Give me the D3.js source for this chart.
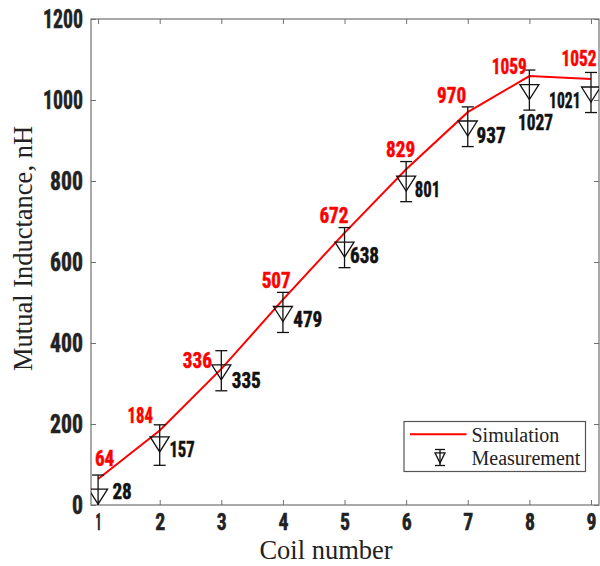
<!DOCTYPE html>
<html>
<head>
<meta charset="utf-8">
<script src="https://cdn.jsdelivr.net/npm/d3@7"></script>
<style>
  html, body { margin: 0; padding: 0; background: #fff; }
  svg { display: block; }
</style>
</head>
<body>
<svg id="chart" width="600" height="566"></svg>
<script>
// Mutual inductance per coil: simulated vs measured (nH)
const coils = [1, 2, 3, 4, 5, 6, 7, 8, 9];
const simulation = [64, 184, 336, 507, 672, 829, 970, 1059, 1052];
const measurement = [28, 157, 335, 479, 638, 801, 937, 1027, 1021];
const measLow = [-20, 98, 282, 426, 586, 749, 885, 975, 969];
const measHigh = [74, 198, 381, 525, 685, 848, 983, 1074, 1068];
const yTicks = [0, 200, 400, 600, 800, 1000, 1200];
const xTicks = [1, 2, 3, 4, 5, 6, 7, 8, 9];

// hand-placed value label offsets (px) relative to each point
const simLabelOffset = [[6.5, -13.4], [-19.5, -7.5], [-24, -1.2], [-6.7, -12], [-10.6, -10.1],
  [-5.5, -12], [-16.2, -9.5], [-20.1, -2.1], [-12, -13.3]];
const measLabelOffset = [[14.3, 5.3, "start"], [9.7, 15.9, "start"], [10.4, 19, "start"],
  [10.3, 16.3, "start"], [5.4, 16.7, "start"], [8.7, 16.1, "start"], [8.8, 17.8, "start"],
  [6.2, 40.9, "middle"], [-10.5, 16.8, "end"]];

const svg = d3.select("#chart");
const box = { left: 91, right: 599, top: 19, bottom: 505 };

const x = d3.scaleLinear().domain([0.885, 9.13]).range([box.left, box.right]);
const y = d3.scaleLinear().domain([0, 1200]).range([box.bottom, box.top]);

const axisColor = "#707070";
const numFont = "'Liberation Sans Narrow', 'Roboto Condensed', 'DejaVu Sans Condensed', sans-serif";
const serif = "'Liberation Serif', 'Times New Roman', serif";

// condensed numerals: squeeze each number to a narrow width ("1" is thinner)
function numWidth(str, w, w1) {
  return String(str).split("").reduce((s, ch) => s + (ch === "1" ? w1 : w), 0);
}
function condense(sel, w, w1) {
  sel.attr("lengthAdjust", "spacingAndGlyphs")
    .attr("textLength", function () { return numWidth(this.textContent, w, w1); })
    .attr("stroke", function () { return d3.select(this).attr("fill"); })
    .attr("stroke-width", 0.5);
}
// value label squeezed horizontally with a transform about its anchor
function valueLabel(px, py, anchor, color, value) {
  const t = svg.append("text")
    .attr("text-anchor", anchor).attr("font-family", numFont).attr("font-weight", "bold")
    .attr("font-size", 22).attr("fill", color).attr("stroke", color).attr("stroke-width", 0.5)
    .text(value);
  const natural = t.node().getComputedTextLength() || 1;
  const k = numWidth(value, 9.7, 6) / natural;
  t.attr("transform", `translate(${px},${py}) scale(${k},1)`);
}

// clip for marks
svg.append("defs").append("clipPath").attr("id", "plotClip")
  .append("rect").attr("x", box.left).attr("y", box.top)
  .attr("width", box.right - box.left).attr("height", box.bottom - box.top);

// axes (ticks point inward)
const tick = 5;
function styleAxis(g) {
  g.select(".domain").remove();
  g.selectAll(".tick line").attr("stroke", axisColor).attr("stroke-width", 1);
}
const gBottom = svg.append("g").attr("transform", `translate(0,${box.bottom})`)
  .call(d3.axisBottom(x).tickValues(xTicks).tickSize(-tick).tickPadding(9).tickFormat(d3.format("d")));
styleAxis(gBottom);
gBottom.selectAll(".tick text").attr("font-family", numFont).attr("font-weight", "bold")
  .attr("font-size", 23).attr("fill", "#222").attr("dy", "0.71em").call(condense, 10, 6);

const gTop = svg.append("g").attr("transform", `translate(0,${box.top})`)
  .call(d3.axisTop(x).tickValues(xTicks).tickSize(-tick).tickFormat(""));
styleAxis(gTop);

const gLeft = svg.append("g").attr("transform", `translate(${box.left},0)`)
  .call(d3.axisLeft(y).tickValues(yTicks).tickSize(-tick).tickPadding(8).tickFormat(d3.format("d")));
styleAxis(gLeft);
gLeft.selectAll(".tick text").attr("font-family", numFont).attr("font-weight", "bold")
  .attr("font-size", 25).attr("fill", "#222").call(condense, 11, 7);

const gRight = svg.append("g").attr("transform", `translate(${box.right},0)`)
  .call(d3.axisRight(y).tickValues(yTicks).tickSize(-tick).tickFormat(""));
styleAxis(gRight);

// frame
svg.append("rect").attr("x", box.left).attr("y", box.top)
  .attr("width", box.right - box.left).attr("height", box.bottom - box.top)
  .attr("fill", "none").attr("stroke", axisColor).attr("stroke-width", 1.2);

// simulation line
const simData = coils.map((c, i) => ({ c, v: simulation[i] }));
svg.append("path").datum(simData)
  .attr("fill", "none").attr("stroke", "#ff0000").attr("stroke-width", 2)
  .attr("d", d3.line().x(d => x(d.c)).y(d => y(d.v)));

// measurement: error bars + down-triangle markers
const measData = coils.map((c, i) => ({ c, v: measurement[i], lo: measLow[i], hi: measHigh[i] }));
const gMeas = svg.append("g").attr("clip-path", "url(#plotClip)")
  .attr("stroke", "#111").attr("stroke-width", 1.3).attr("fill", "none");
const cap = 6;
measData.forEach(d => {
  const cx = x(d.c);
  gMeas.append("line").attr("x1", cx).attr("x2", cx).attr("y1", y(d.lo)).attr("y2", y(d.hi));
  gMeas.append("line").attr("x1", cx - cap).attr("x2", cx + cap).attr("y1", y(d.hi)).attr("y2", y(d.hi));
  gMeas.append("line").attr("x1", cx - cap).attr("x2", cx + cap).attr("y1", y(d.lo)).attr("y2", y(d.lo));
  const cy = y(d.v);
  gMeas.append("path")
    .attr("d", `M${cx - 9.5},${cy - 4.5}L${cx + 9.5},${cy - 4.5}L${cx},${cy + 10.5}Z`);
});

// value labels
simData.forEach((d, i) => {
  valueLabel(x(d.c) + simLabelOffset[i][0], y(d.v) + simLabelOffset[i][1], "middle", "#ff0000", d.v);
});
measData.forEach((d, i) => {
  const o = measLabelOffset[i];
  valueLabel(x(d.c) + o[0], y(d.v) + o[1], o[2], "#111", d.v);
});

// axis titles
svg.append("text").attr("x", 326).attr("y", 559).attr("text-anchor", "middle")
  .attr("font-family", serif).attr("font-size", 26.5).attr("fill", "#222").text("Coil number");
svg.append("text").attr("transform", "translate(31.5,248.5) rotate(-90)").attr("text-anchor", "middle")
  .attr("font-family", serif).attr("font-size", 26.5).attr("fill", "#222").text("Mutual Inductance, nH");

// legend
const lg = svg.append("g");
lg.append("rect").attr("x", 404).attr("y", 421.5).attr("width", 181.5).attr("height", 50)
  .attr("fill", "#fff").attr("stroke", "#555").attr("stroke-width", 1.2);
lg.append("line").attr("x1", 410).attr("x2", 466.5).attr("y1", 434.3).attr("y2", 434.3)
  .attr("stroke", "#ff0000").attr("stroke-width", 2);
lg.append("text").attr("x", 471.5).attr("y", 441.5).attr("font-family", serif)
  .attr("font-size", 20).attr("fill", "#222").text("Simulation");
const mk = lg.append("g").attr("stroke", "#111").attr("stroke-width", 1.3).attr("fill", "none");
const lx = 440;
mk.append("line").attr("x1", lx).attr("x2", lx).attr("y1", 449.5).attr("y2", 465.5);
mk.append("line").attr("x1", lx - 5).attr("x2", lx + 5).attr("y1", 449.5).attr("y2", 449.5);
mk.append("line").attr("x1", lx - 5).attr("x2", lx + 5).attr("y1", 465.5).attr("y2", 465.5);
mk.append("path").attr("d", `M${lx - 5},${452.8}L${lx + 5},${452.8}L${lx},${463}Z`);
lg.append("text").attr("x", 471.5).attr("y", 465).attr("font-family", serif)
  .attr("font-size", 20).attr("fill", "#222").text("Measurement");
</script>
</body>
</html>
